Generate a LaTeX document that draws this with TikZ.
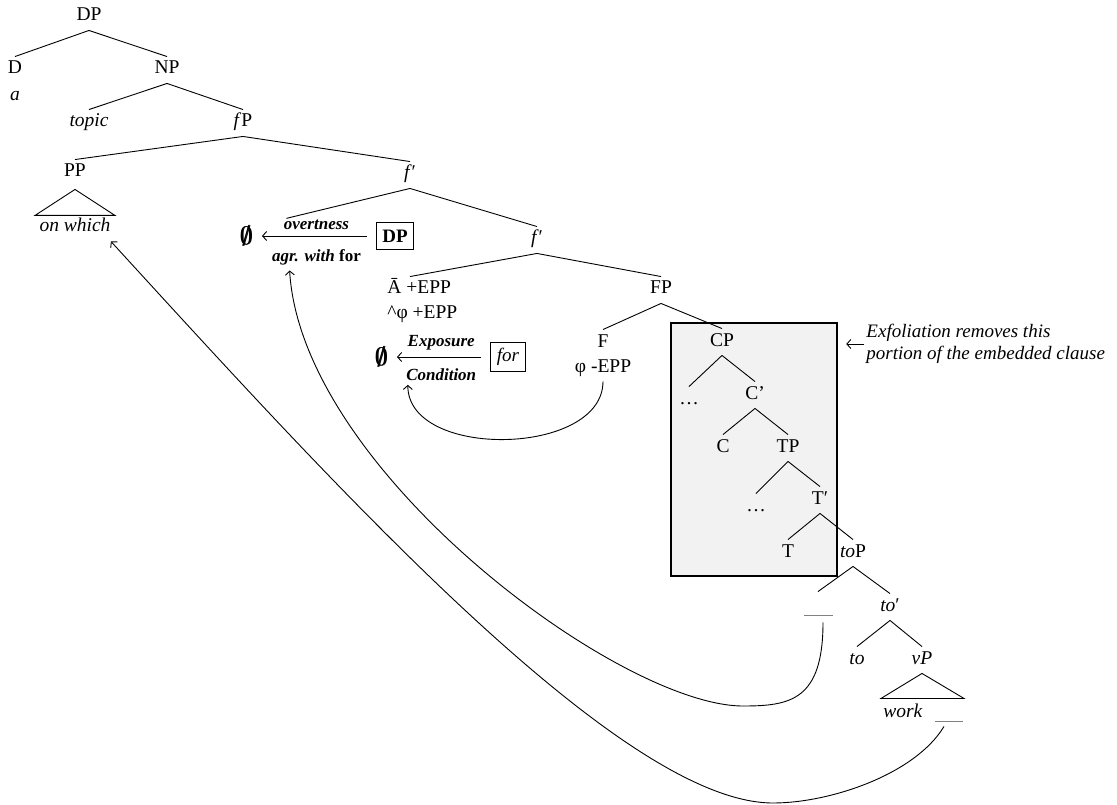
\documentclass[tikz,border=0pt]{standalone}
\usepackage{fontspec}
\usepackage{amsmath}
\usetikzlibrary{arrows.meta}
\setmainfont{Liberation Serif}
\newcommand{\nul}{{\fontsize{24}{24}\selectfont$\pmb{\emptyset}$}}
\tikzset{
  tree/.style={inner xsep=2pt, inner ysep=5pt, text height=12pt, text depth=4pt},
  lbl/.style={font=\fontsize{17}{19}\selectfont\bfseries\itshape, inner sep=1pt},
  boxed/.style={draw, line width=0.9pt},
}
\begin{document}
\begin{tikzpicture}[x=1pt, y=-1pt, line width=0.9pt, >={Straight Barb[length=4pt,width=9pt]},
    every node/.style={font=\fontsize{19.5}{22}\selectfont}]
  \useasboundingbox (0,0) rectangle (1117,805);

  % shaded part of the embedded clause
  \node[draw, line width=2.5pt, fill=gray!10, minimum width=166pt, minimum height=253pt, inner sep=0pt] (exfol) at (754,449.5) {};
  \node[align=left, font=\fontsize{19}{22}\selectfont\itshape, anchor=west, inner sep=2pt] (exnote) at (864,344) {Exfoliation removes this\\portion of the embedded clause};
  \draw[->] (exnote.west) -- ([xshift=8pt]exnote.west -| exfol.east);

  \node[tree] (dp) at (89,17) {DP};
  \node[tree] (d) at (15,70) {D};
  \node[tree] (a) at (15,97) {\textit{a}};
  \node[tree] (np) at (167,70) {NP};
  \node[tree] (topic) at (89,123) {\textit{topic}};
  \node[tree] (fp) at (243,123) {\textit{f}P};
  \node[tree] (pp) at (75,173) {PP};
  \node[tree] (onwhich) at (75,228) {\textit{on which}};
  \node[tree] (fbar1) at (410,175) {\textit{f}′};
  \node[tree] (fbar2) at (537,240) {\textit{f}′};

  % overtness
  \node (null1) at (247,236) {\nul};
  \node[boxed, inner xsep=6pt, inner ysep=7pt, font=\fontsize{19}{21}\selectfont\bfseries] (dpbox) at (395,236) {DP};
  \draw[->, shorten >=5pt, shorten <=9pt] (dpbox) -- (null1)
    node[lbl, midway, above=5pt] (ovt) {overtness}
    node[lbl, midway, below=12pt] (agr) {agr. with \upshape for};

  \node[tree, anchor=west] (abar) at (385,290) {Ā +EPP};
  \node[tree, anchor=west] (phia) at (385,315) {\textasciicircum φ +EPP};

  % exposure condition
  \node (null2) at (382,357) {\nul};
  \node[boxed, inner xsep=6pt, inner ysep=6pt, text height=13pt, text depth=4pt, font=\fontsize{19}{21}\selectfont\itshape] (forbox) at (508,357) {for};
  \draw[->, shorten >=5pt, shorten <=9pt] (forbox) -- (null2)
    node[lbl, midway, above=5pt] (expo) {Exposure}
    node[lbl, midway, below=10pt] (cond) {Condition};

  \node[tree] (fpp) at (661,290) {FP};
  \node[tree] (f) at (603,343) {F};
  \node[tree] (phiepp) at (603,368) {φ -EPP};
  \node[tree] (cp) at (722,342) {CP};
  \node[tree] (dots1) at (689,400) {…};
  \node[tree] (cbar) at (755,395) {C’};
  \node[tree] (c) at (723,448) {C};
  \node[tree] (tp) at (788,448) {TP};
  \node[tree] (dots2) at (756,507) {…};
  \node[tree] (tbar) at (820,500) {T′};
  \node[tree] (t) at (788,553) {T};
  \node[tree] (top) at (853,553) {\textit{to}P};
  \node[tree, inner xsep=0pt] (gapa) at (818,605) {\textcolor{gray}{\rule[-7pt]{29pt}{0.9pt}}};
  \node[tree] (tobar) at (890,607) {\textit{to}′};
  \node[tree] (to) at (857,660) {\textit{to}};
  \node[tree] (vp) at (922,660) {\textit{vP}};
  \node[tree] (work) at (903,713) {\textit{work}};
  \node[tree, inner xsep=0pt] (gapb) at (949,713) {\textcolor{gray}{\rule[-5pt]{28pt}{0.9pt}}};

  % branches
  \draw (dp.south) -- (d.north);
  \draw (dp.south) -- (np.north);
  \draw (np.south) -- (topic.north);
  \draw (np.south) -- (fp.north);
  \draw (fp.south) -- (pp.north);
  \draw (fp.south) -- (fbar1.north);
  \draw (fbar1.south) -- ([xshift=4pt]ovt.north west);
  \draw (fbar1.south) -- (fbar2.north);
  \draw (fbar2.south) -- ([xshift=25pt]abar.north west);
  \draw (fbar2.south) -- (fpp.north);
  \draw (fpp.south) -- (f.north);
  \draw (fpp.south) -- (cp.north);
  \draw (cp.south) -- (dots1.north);
  \draw (cp.south) -- (cbar.north);
  \draw (cbar.south) -- (c.north);
  \draw (cbar.south) -- (tp.north);
  \draw (tp.south) -- (dots2.north);
  \draw (tp.south) -- (tbar.north);
  \draw (tbar.south) -- (t.north);
  \draw (tbar.south) -- (top.north);
  \draw (top.south) -- (gapa.north);
  \draw (top.south) -- (tobar.north);
  \draw (tobar.south) -- (to.north);
  \draw (tobar.south) -- (vp.north);

  % triangles
  \draw ([yshift=-3pt]pp.south) -- ++(-40,26) -- ++(80,0) -- cycle;
  \draw (vp.south) -- ++(-41,25) -- ++(83,0) -- cycle;

  % movement arrows
  \draw[->] (phiepp.south) .. controls +(0,75) and +(0,75) .. ([xshift=3pt,yshift=-3pt]cond.south west);
  \draw[->] ([xshift=5pt,yshift=-4pt]gapa.south) .. controls +(0,78) and +(47,0) .. (743,706)
    .. controls +(-123,0) and +(12,200) .. ([xshift=19pt,yshift=-4pt]agr.south west);
  \draw[->] ([xshift=-5pt]gapb.south) .. controls +(-29,48) and +(57,0) .. (773,803)
    .. controls +(-153,0) and +(217,237) .. ([xshift=-2pt]onwhich.south east);
\end{tikzpicture}
\end{document}
